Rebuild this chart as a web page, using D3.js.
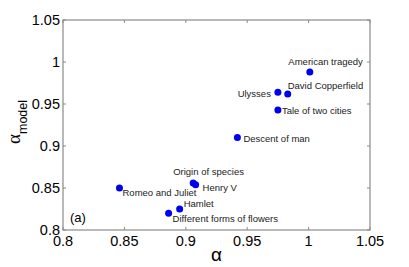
<!DOCTYPE html>
<html lang="en">
<head>
  <meta charset="UTF-8">
  <title>alpha vs alpha model</title>
  <script src="https://d3js.org/d3.v7.min.js"></script>
  <style>
    body { margin: 0; background: #fff; }
    text { font-family: "Liberation Sans", Arial, sans-serif; }
  </style>
</head>
<body>
<svg id="chart" width="409" height="267"></svg>
<script>
// data
const books = ["American tragedy", "Ulysses", "David Copperfield", "Tale of two cities",
  "Descent of man", "Origin of species", "Henry V", "Romeo and Juliet", "Hamlet",
  "Different forms of flowers"];
const alpha = [1.001, 0.975, 0.983, 0.975, 0.942, 0.906, 0.908, 0.846, 0.895, 0.886];
const alphaModel = [0.988, 0.964, 0.962, 0.943, 0.910, 0.856, 0.854, 0.850, 0.825, 0.820];
const xTicks = [0.8, 0.85, 0.9, 0.95, 1, 1.05];
const yTicks = [0.8, 0.85, 0.9, 0.95, 1, 1.05];
// label offsets relative to each point [dx, dy, anchor]
const labelPos = [[53, -7, "end"], [-7, 5, "end"], [0, -5, "start"], [4, 4, "start"],
  [6, 4, "start"], [-20, -8, "start"], [7, 6, "start"], [3, 8, "start"], [4, -2, "start"],
  [4, 9, "start"]];

const svg = d3.select("#chart");
const mLeft = 63, mRight = 370, mTop = 20, mBottom = 230;

const x = d3.scaleLinear().domain([0.8, 1.05]).range([mLeft, mRight]);
const y = d3.scaleLinear().domain([0.8, 1.05]).range([mBottom, mTop]);

const axisColor = "#8a8a8a";
const fmt = d => String(+d.toFixed(2));

// box
svg.append("rect")
    .attr("x", mLeft).attr("y", mTop)
    .attr("width", mRight - mLeft).attr("height", mBottom - mTop)
    .attr("fill", "none").attr("stroke", axisColor).attr("stroke-width", 1.2);

// ticks (inside, mirrored)
const tk = 3;
xTicks.forEach(t => {
  svg.append("line").attr("x1", x(t)).attr("x2", x(t)).attr("y1", mBottom).attr("y2", mBottom - tk)
    .attr("stroke", axisColor);
  svg.append("line").attr("x1", x(t)).attr("x2", x(t)).attr("y1", mTop).attr("y2", mTop + tk)
    .attr("stroke", axisColor);
});
yTicks.forEach(t => {
  svg.append("line").attr("y1", y(t)).attr("y2", y(t)).attr("x1", mLeft).attr("x2", mLeft + tk)
    .attr("stroke", axisColor);
  svg.append("line").attr("y1", y(t)).attr("y2", y(t)).attr("x1", mRight).attr("x2", mRight - tk)
    .attr("stroke", axisColor);
});

svg.append("g").selectAll("text").data(xTicks).join("text")
    .attr("x", d => x(d)).attr("y", mBottom + 16)
    .attr("text-anchor", "middle").attr("font-size", 14.5).attr("fill", "#000")
    .text(fmt);

svg.append("g").selectAll("text").data(yTicks).join("text")
    .attr("x", mLeft - 3).attr("y", d => y(d) + 5)
    .attr("text-anchor", "end").attr("font-size", 14.5).attr("fill", "#000")
    .text(fmt);

// axis labels
svg.append("text").attr("x", x(0.925)).attr("y", 261)
    .attr("text-anchor", "middle").attr("font-size", 19)
    .attr("font-family", "Liberation Serif, serif").text("α");

const yl = svg.append("text").attr("transform", "translate(20,122) rotate(-90)")
    .attr("text-anchor", "middle");
yl.append("tspan").attr("font-size", 19).attr("font-family", "Liberation Serif, serif").text("α");
yl.append("tspan").attr("font-size", 12.5).attr("dy", 7).text("model");

// points
const idx = d3.range(books.length);
svg.append("g").selectAll("circle").data(idx).join("circle")
    .attr("cx", i => x(alpha[i])).attr("cy", i => y(alphaModel[i]))
    .attr("r", 3.5).attr("fill", "#0000ee");

svg.append("g").selectAll("text").data(idx).join("text")
    .attr("x", i => x(alpha[i]) + labelPos[i][0])
    .attr("y", i => y(alphaModel[i]) + labelPos[i][1])
    .attr("text-anchor", i => labelPos[i][2])
    .attr("font-size", 9.5).attr("fill", "#222")
    .text(i => books[i]);

svg.append("text").attr("x", 70).attr("y", 222).attr("font-size", 13).text("(a)");
</script>
</body>
</html>
